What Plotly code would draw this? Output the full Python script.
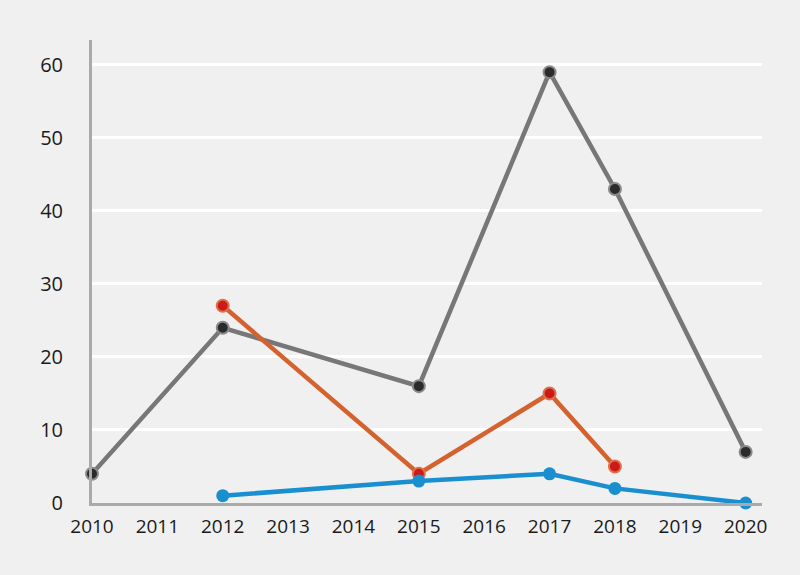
import plotly.graph_objects as go

years_gray = [2010, 2012, 2015, 2017, 2018, 2020]
vals_gray = [4, 24, 16, 59, 43, 7]

years_orange = [2012, 2015, 2017, 2018]
vals_orange = [27, 4, 15, 5]

years_blue = [2012, 2015, 2017, 2018, 2020]
vals_blue = [1, 3, 4, 2, 0]

x_ticks = list(range(2010, 2021))
y_ticks = [0, 10, 20, 30, 40, 50, 60]

bg = '#f0f0f0'

fig = go.Figure()

fig.add_trace(go.Scatter(
    x=years_gray, y=vals_gray, mode='lines+markers',
    line=dict(color='#77777a', width=4.5),
    marker=dict(size=12, color='#2b2b2b', line=dict(color='#8a8a8a', width=2)),
    cliponaxis=False, showlegend=False
))
fig.add_trace(go.Scatter(
    x=years_orange, y=vals_orange, mode='lines+markers',
    line=dict(color='#d4622e', width=4.5),
    marker=dict(size=12, color='#cc1a1a', line=dict(color='#e0704a', width=2)),
    cliponaxis=False, showlegend=False
))
fig.add_trace(go.Scatter(
    x=years_blue, y=vals_blue, mode='lines+markers',
    line=dict(color='#1a8fd0', width=4.5),
    marker=dict(size=13, color='#1a8fd0'),
    cliponaxis=False, showlegend=False
))

fig.update_layout(
    width=800, height=575,
    paper_bgcolor=bg, plot_bgcolor=bg,
    margin=dict(l=92, r=38, t=40, b=72),
    font=dict(family='Open Sans, sans-serif', size=20, color='#1a1a1a'),
    xaxis=dict(
        range=[2010, 2020.25], tickvals=x_ticks, ticktext=[str(t) for t in x_ticks],
        showgrid=False, zeroline=False,
        showline=True, linecolor='#aaaaaa', linewidth=3,
        ticks='', ticklabelstandoff=4, tickfont=dict(size=19),
    ),
    yaxis=dict(
        range=[0, 63.4], tickvals=y_ticks,
        showgrid=True, gridcolor='#ffffff', gridwidth=3,
        zeroline=False,
        showline=True, linecolor='#aaaaaa', linewidth=3,
        ticks='', ticklabelstandoff=22, tickfont=dict(size=20),
    ),
)

fig.write_html("out.html", config={'displayModeBar': False},
               post_script="document.body.style.margin='0';document.body.style.background='#f0f0f0';")
